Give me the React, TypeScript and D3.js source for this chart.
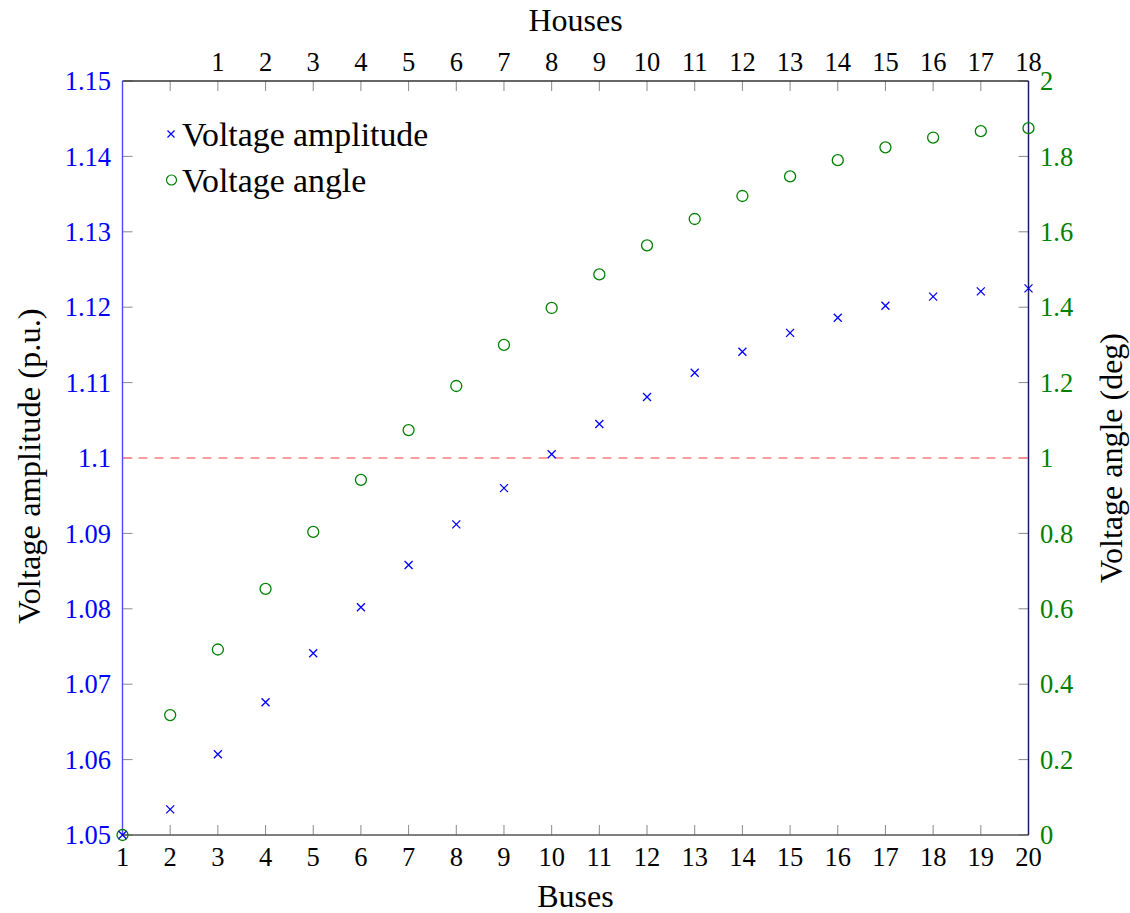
import React from "react";
import * as d3 from "d3";

const buses = [1, 2, 3, 4, 5, 6, 7, 8, 9, 10, 11, 12, 13, 14, 15, 16, 17, 18, 19, 20];
const amplitude = [1.05, 1.0534, 1.0607, 1.0676, 1.0741, 1.0802, 1.0858, 1.0912, 1.096, 1.1005, 1.1045, 1.1081, 1.1113, 1.1141, 1.1166, 1.1186, 1.1202, 1.1214, 1.1221, 1.1225];
const angle = [0, 0.318, 0.492, 0.653, 0.804, 0.942, 1.074, 1.191, 1.3, 1.398, 1.487, 1.564, 1.634, 1.695, 1.747, 1.79, 1.824, 1.85, 1.867, 1.875];
const houseTickBuses = [2, 3, 4, 5, 6, 7, 8, 9, 10, 11, 12, 13, 14, 15, 16, 17, 18, 19, 20];
const houseLabels = ["", "1", "2", "3", "4", "5", "6", "7", "8", "9", "10", "11", "12", "13", "14", "15", "16", "17", "18"];
const leftTicks = [1.05, 1.06, 1.07, 1.08, 1.09, 1.1, 1.11, 1.12, 1.13, 1.14, 1.15];
const rightTicks = [0, 0.2, 0.4, 0.6, 0.8, 1, 1.2, 1.4, 1.6, 1.8, 2];
const limitValue = 1.1;

const W = 1130, H = 913;
const L = 122.5, R = 1028.5, T = 81, B = 835;
const FONT = "'Liberation Serif', 'Times New Roman', serif";
const BLUE = "#0000ff";
const GREEN = "#008000";
const TICK = "#8a8a8a";

export default function App() {
  const x = d3.scaleLinear().domain([1, 20]).range([L, R]);
  const yL = d3.scaleLinear().domain([1.05, 1.15]).range([B, T]);
  const yR = d3.scaleLinear().domain([0, 2]).range([B, T]);
  const cs = 4;
  const tl = 10;
  return (
    <svg width={W} height={H} style={{ position: "absolute", left: 0, top: 0, background: "#fff" }} fontFamily={FONT}>
      {/* ticks */}
      {buses.map((b) => (
        <line key={"bt" + b} x1={x(b)} x2={x(b)} y1={B} y2={B - tl} stroke={TICK} strokeWidth={1} />
      ))}
      {houseTickBuses.map((b) => (
        <line key={"tt" + b} x1={x(b)} x2={x(b)} y1={T} y2={T + tl} stroke={TICK} strokeWidth={1} />
      ))}
      {leftTicks.map((v) => (
        <line key={"lt" + v} x1={L} x2={L + tl} y1={yL(v)} y2={yL(v)} stroke={TICK} strokeWidth={1} />
      ))}
      {rightTicks.map((v) => (
        <line key={"rt" + v} x1={R} x2={R - tl} y1={yR(v)} y2={yR(v)} stroke={TICK} strokeWidth={1} />
      ))}

      {/* limit line */}
      <line x1={L} x2={R} y1={yL(limitValue)} y2={yL(limitValue)} stroke="#ff7f7f" strokeWidth={1.6} strokeDasharray="9 7" />

      {/* axis lines */}
      <line x1={L} x2={R} y1={B} y2={B} stroke="#555" strokeWidth={1.6} />
      <line x1={L} x2={R} y1={T} y2={T} stroke="#333" strokeWidth={1.6} />
      <line x1={L} x2={L} y1={T} y2={B} stroke="#4a4aff" strokeWidth={1.4} />
      <line x1={R} x2={R} y1={T} y2={B} stroke="#1c1c60" strokeWidth={1.5} />

      {/* angle markers */}
      {buses.map((b, i) => (
        <circle key={"c" + b} cx={x(b)} cy={yR(angle[i])} r={5.5} fill="none" stroke={GREEN} strokeWidth={1.3} />
      ))}
      {/* amplitude markers */}
      {buses.map((b, i) => {
        const cx = x(b), cy = yL(amplitude[i]);
        return (
          <path key={"x" + b} d={`M${cx - cs},${cy - cs}L${cx + cs},${cy + cs}M${cx - cs},${cy + cs}L${cx + cs},${cy - cs}`} stroke={BLUE} strokeWidth={1.3} fill="none" />
        );
      })}

      {/* tick labels */}
      {buses.map((b) => (
        <text key={"bl" + b} x={x(b)} y={857} dy="0.35em" textAnchor="middle" fontSize={26.5} fill="#000">{b}</text>
      ))}
      {houseTickBuses.map((b, i) => (
        <text key={"hl" + b} x={x(b)} y={62} dy="0.35em" textAnchor="middle" fontSize={26.5} fill="#000">{houseLabels[i]}</text>
      ))}
      {leftTicks.map((v) => (
        <text key={"ll" + v} x={111} y={yL(v)} dy="0.35em" textAnchor="end" fontSize={26.5} fill={BLUE}>{String(+v.toFixed(2))}</text>
      ))}
      {rightTicks.map((v) => (
        <text key={"rl" + v} x={1040} y={yR(v)} dy="0.35em" textAnchor="start" fontSize={26.5} fill={GREEN}>{String(+v.toFixed(1))}</text>
      ))}

      {/* axis titles */}
      <text x={(L + R) / 2} y={20} dy="0.35em" textAnchor="middle" fontSize={32} fill="#000">Houses</text>
      <text x={(L + R) / 2} y={896} dy="0.35em" textAnchor="middle" fontSize={32} fill="#000">Buses</text>
      <text transform={`translate(29,${(T + B) / 2 + 8}) rotate(-90)`} dy="0.35em" textAnchor="middle" fontSize={32.5} fill="#000">Voltage amplitude (p.u.)</text>
      <text transform={`translate(1111,${(T + B) / 2}) rotate(-90)`} dy="0.35em" textAnchor="middle" fontSize={32} fill="#000">Voltage angle (deg)</text>

      {/* legend */}
      <path d={`M${171 - 3.5},${134 - 3.5}L${171 + 3.5},${134 + 3.5}M${171 - 3.5},${134 + 3.5}L${171 + 3.5},${134 - 3.5}`} stroke={BLUE} strokeWidth={1.2} fill="none" />
      <text x={182} y={134} dy="0.35em" fontSize={33.8} fill="#000">Voltage amplitude</text>
      <circle cx={171.5} cy={180} r={5} fill="none" stroke={GREEN} strokeWidth={1.2} />
      <text x={182} y={180} dy="0.35em" fontSize={33.8} fill="#000">Voltage angle</text>
    </svg>
  );
}
